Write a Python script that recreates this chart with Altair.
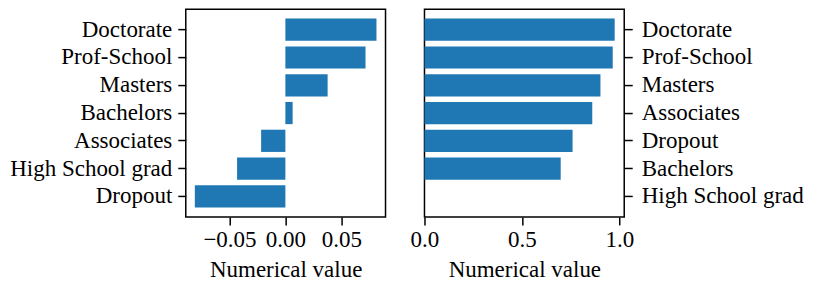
import altair as alt
import pandas as pd

left_categories = ["Doctorate", "Prof-School", "Masters", "Bachelors",
                   "Associates", "High School grad", "Dropout"]
left_values = [0.0815, 0.0717, 0.0378, 0.0065, -0.0217, -0.0432, -0.0810]

right_categories = ["Doctorate", "Prof-School", "Masters", "Associates",
                    "Dropout", "Bachelors", "High School grad"]
right_values = [0.976, 0.966, 0.903, 0.861, 0.760, 0.699, 0.0]

left_ticks = [-0.05, 0.0, 0.05]
right_ticks = [0.0, 0.5, 1.0]
x_title = "Numerical value"

FONT = "Liberation Serif"
BLUE = "#1f77b4"
FS = 23

left_df = pd.DataFrame({"category": left_categories, "value": left_values})
right_df = pd.DataFrame({"category": right_categories, "value": right_values})


def panel(df, order, domain, ticks, fmt, orient, ypad):
    return alt.Chart(df).mark_bar(color=BLUE).encode(
        x=alt.X(
            "value:Q",
            scale=alt.Scale(domain=domain, nice=False, zero=False),
            axis=alt.Axis(values=ticks, format=fmt, title=x_title, grid=False,
                          domain=False, tickSize=8, tickWidth=1.5, tickColor="black",
                          labelPadding=4, titlePadding=7, labelFlush=False),
        ),
        y=alt.Y(
            "category:N",
            sort=order,
            scale=alt.Scale(paddingInner=0.2, paddingOuter=0.34),
            axis=alt.Axis(orient=orient, title=None, grid=False, domain=False,
                          tickSize=8, tickWidth=1.5, tickColor="black",
                          labelPadding=ypad),
        ),
    ).properties(width=200, height=208)


left = panel(left_df, left_categories, [-0.0891, 0.0896], left_ticks, ".2f", "left", 6)
right = panel(right_df, right_categories, [0.0, 1.025], right_ticks, ".1f", "right", 9)

chart = alt.hconcat(left, right, spacing=39, bounds="flush").configure_view(
    stroke="black", strokeWidth=1.5
).configure_axis(
    labelFont=FONT, labelFontSize=FS, labelColor="black",
    titleFont=FONT, titleFontSize=FS, titleColor="black", titleFontWeight="normal",
).properties(padding=0, background="white")

chart.save("out.html", embed_options={"renderer": "svg", "actions": False})
